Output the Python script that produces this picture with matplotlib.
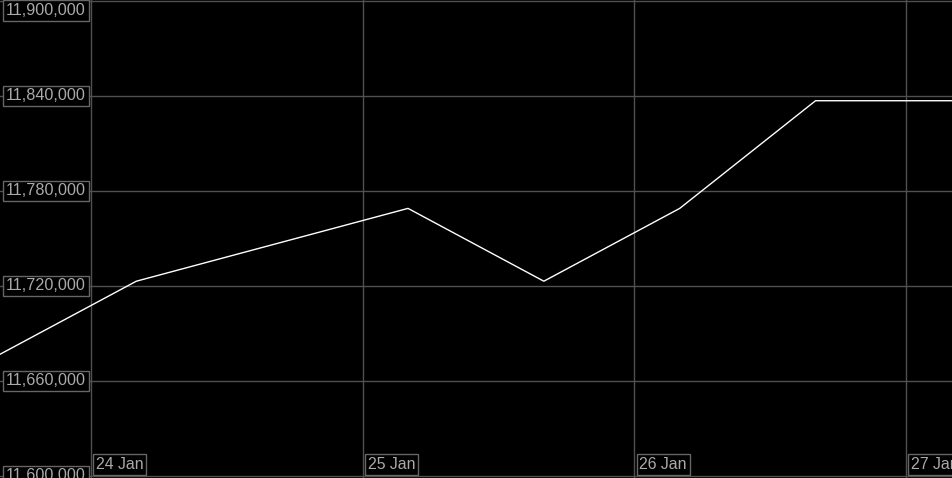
import datetime as dt
import matplotlib
matplotlib.use('Agg')
import matplotlib.pyplot as plt
import matplotlib.dates as mdates

times = ['2023-01-23 16:00', '2023-01-24 04:00', '2023-01-24 16:00', '2023-01-25 04:00',
         '2023-01-25 16:00', '2023-01-26 04:00', '2023-01-26 16:00', '2023-01-27 04:00']
values = [11677000, 11723000, 11746000, 11769000, 11723000, 11769000, 11837000, 11837000]

y_ticks = [11600000, 11660000, 11720000, 11780000, 11840000, 11900000]
x_ticks = ['2023-01-24', '2023-01-25', '2023-01-26', '2023-01-27']
x_labels = ['24 Jan', '25 Jan', '26 Jan', '27 Jan']

t = [dt.datetime.strptime(s, '%Y-%m-%d %H:%M') for s in times]
xt = [mdates.date2num(dt.datetime.strptime(s, '%Y-%m-%d')) for s in x_ticks]

plt.rcParams['font.family'] = ['Liberation Sans', 'DejaVu Sans']

fig = plt.figure(figsize=(9.53, 4.78), dpi=100, facecolor='black')
ax = fig.add_axes([0, 0, 1, 1], facecolor='black')

ax.plot(mdates.date2num(t), values, color='white', lw=1)

ax.set_xlim(xt[0] - 0.335, xt[0] - 0.335 + 953 / 271.7)
ax.set_ylim(11598700, 11900630)

grid_col = '#505050'
for y in y_ticks:
    ax.axhline(y, color=grid_col, lw=1, zorder=0)
for x in xt:
    ax.axvline(x, color=grid_col, lw=1, zorder=0)

for s in ax.spines.values():
    s.set_visible(False)
ax.set_xticks([])
ax.set_yticks([])

box = dict(boxstyle='square,pad=0.18', facecolor='black', edgecolor='#666666', lw=1)
for y in y_ticks:
    if y == y_ticks[-1]:
        ax.annotate(f'{y:,}', xy=(0, 1), xycoords='axes fraction', xytext=(6, -3),
                    textcoords='offset pixels', ha='left', va='top',
                    color='#aaaaaa', fontsize=11.6, bbox=box)
    else:
        ax.annotate(f'{y:,}', xy=(0, y), xycoords=ax.get_yaxis_transform(), xytext=(6, 0),
                    textcoords='offset pixels', ha='left', va='center',
                    color='#aaaaaa', fontsize=11.6, bbox=box)

for x, lab in zip(xt, x_labels):
    ax.annotate(lab, xy=(x, 0), xycoords=ax.get_xaxis_transform(), xytext=(5, 6),
                textcoords='offset pixels', ha='left', va='bottom',
                color='#aaaaaa', fontsize=11.4, bbox=box)

fig.savefig('out.png', dpi=100, facecolor='black')
